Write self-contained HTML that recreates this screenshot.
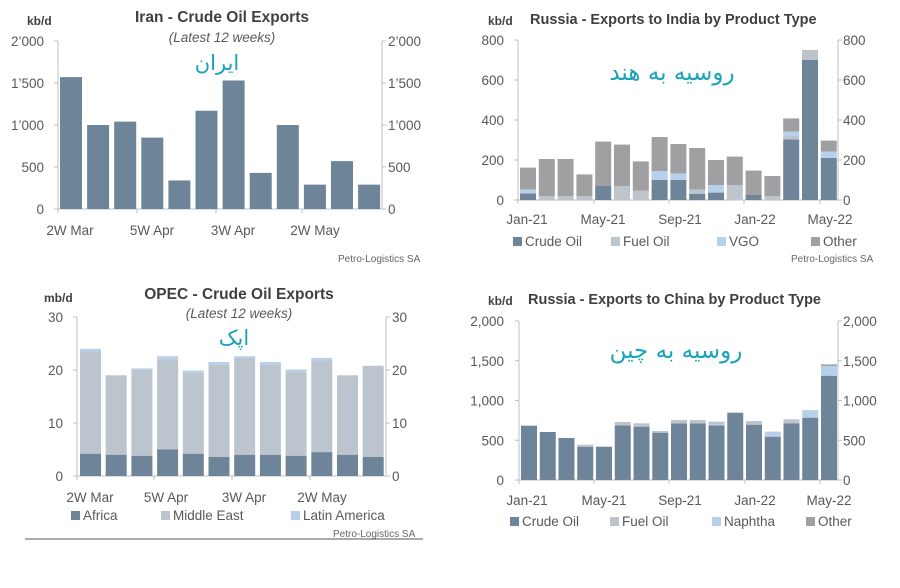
<!DOCTYPE html>
<html><head><meta charset="utf-8">
<style>
body{margin:0;background:#fff;}
svg{display:block;font-family:"Liberation Sans","Noto Sans CJK SC",sans-serif;}
.t{fill:#595959;font-size:13.5px;}
.ti{fill:#404040;font-size:15.5px;font-weight:bold;}
.fa{fill:#1aa3b8;font-family:"DejaVu Sans",sans-serif;}
.src{fill:#666;font-size:10px;}
</style></head><body>
<svg id="s" width="900" height="588" viewBox="0 0 900 588" xmlns="http://www.w3.org/2000/svg"></svg>
<script>
const S=document.getElementById('s');let h='';
function R(x,y,w,hh,c){h+=`<rect x="${x}" y="${y}" width="${w}" height="${hh}" fill="${c}"/>`;}
function T(x,y,s,cls,anc,extra){h+=`<text x="${x}" y="${y}" class="${cls}" text-anchor="${anc||'start'}" ${extra||''}>${s}</text>`;}
function L(x1,y1,x2,y2,c){h+=`<line x1="${x1}" y1="${y1}" x2="${x2}" y2="${y2}" stroke="${c||'#bfbfbf'}" stroke-width="1"/>`;}
const CR='#6e8499',FU='#bdc4cc',VG='#b7d0ec',OT='#a0a0a2',ME='#bcc5ce';
function axes(xl,xr,y0,yt,ticks,labs,lx,rx,bt){
 L(xl,y0,xr,y0);L(xl,yt,xl,y0);L(xr,yt,xr,y0);
 ticks.forEach((v,i)=>{const y=y0-(y0-yt)*i/(ticks.length-1);L(xl-4,y,xl,y);L(xr,y,xr+4,y);
  T(lx,y+5,v,'t','end');T(rx,y+5,v,'t','start');});
 bt.forEach(x=>L(x,y0,x,y0+4));
}
// Chart 1 Iran
axes(58,382,209,41,['0','500','1\u2019000','1\u2019500','2\u2019000'],0,44,388,[58,137,216,302]);
[1570,1000,1040,850,340,1170,1530,430,1000,290,570,290].forEach((v,i)=>{const hh=v*0.084;R(60+i*27.1,209-hh,22,hh,CR);});
[['2W Mar',70],['5W Apr',152],['3W Apr',233],['2W May',315]].forEach(a=>T(a[1],235,a[0],'t','middle'));
T(222,22,'Iran - Crude Oil Exports','ti','middle');
T(222,42,'(Latest 12 weeks)','t','middle','font-style="italic"');
T(27,25,'kb/d','t','start','font-weight="bold" style="font-size:12px;fill:#404040"');
T(217,70,'ایران','fa','middle','font-size="21"');
T(338,262,'Petro-Logistics SA','src');
// Chart 2 India
axes(518,838,200,40,['0','200','400','600','800'],0,504,843,[518,594,669,744,820]);
const ind=[[33,0,20,162],[0,20,0,205],[0,20,0,205],[0,20,0,128],[70,0,0,292],[0,70,0,277],[0,47,0,193],[100,0,45,315],[100,0,33,280],[30,23,0,260],[37,0,38,200],[0,75,0,217],[25,0,0,147],[0,20,0,120],[303,17,22,408],[700,50,0,750],[210,0,32,297]];
ind.forEach((d,i)=>{const x=520+i*18.8;let y=200;const s=0.2;
 [[d[0],CR],[d[1],FU],[d[2],VG]].forEach(p=>{if(p[0]){R(x,y-p[0]*s,16,p[0]*s,p[1]);y-=p[0]*s;}});
 const o=d[3]*s-(200-y);if(o>0)R(x,200-d[3]*s,16,o,OT);});
[['Jan-21',527],['May-21',603],['Sep-21',680],['Jan-22',755],['May-22',830]].forEach(a=>T(a[1],224,a[0],'t','middle'));
[[513,'Crude Oil',CR],[611,'Fuel Oil',FU],[717,'VGO',VG],[811,'Other',OT]].forEach(a=>{R(a[0],237,9,9,a[2]);T(a[0]+12,246,a[1],'t');});
T(530,24,'Russia - Exports to India by Product Type','ti','start','style="font-size:14.5px"');
T(488,25,'kb/d','t','start','font-weight="bold" style="font-size:12px;fill:#404040"');
T(672,80,'روسیه به هند','fa','middle','font-size="23"');
T(791,262,'Petro-Logistics SA','src');
// Chart 3 OPEC
axes(77,386,476,317,['0','10','20','30'],0,63,392,[77,154,232,310]);
const af=[4.2,4,3.8,5,4.2,3.6,4,4,3.8,4.5,4,3.6],mt=[23.5,19,20,22,19.5,21,22.3,21,19.6,21.8,19,20.8],la=[24,19,20.3,22.6,19.9,21.5,22.6,21.5,20.1,22.3,19,20.8];
af.forEach((v,i)=>{const x=80+i*25.7,s=5.3;R(x,476-la[i]*s,21,(la[i]-mt[i])*s,VG);R(x,476-mt[i]*s,21,(mt[i]-v)*s,ME);R(x,476-v*s,21,v*s,CR);});
[['2W Mar',90],['5W Apr',166],['3W Apr',244],['2W May',322]].forEach(a=>T(a[1],502,a[0],'t','middle'));
[[71,'Africa',CR],[161,'Middle East',ME],[291,'Latin America',VG]].forEach(a=>{R(a[0],511,9,9,a[2]);T(a[0]+12,520,a[1],'t');});
T(239,299,'OPEC - Crude Oil Exports','ti','middle');
T(239,318,'(Latest 12 weeks)','t','middle','font-style="italic"');
T(44,302,'mb/d','t','start','font-weight="bold" style="font-size:12px;fill:#404040"');
T(234,345,'اپک','fa','middle','font-size="21"');
T(333,537,'Petro-Logistics SA','src');
L(25,539,423,539,'#555');
// Chart 4 China
axes(519,838,480,321,['0','500','1,000','1,500','2,000'],0,504,843,[519,594,669,745,820]);
const ch=[[683,0,0,683],[604,0,0,604],[528,0,0,528],[419,25,0,444],[419,0,0,419],[688,42,0,730],[671,42,0,713],[595,21,0,616],[713,42,0,755],[713,42,0,755],[688,33,13,734],[847,0,0,847],[696,46,0,742],[545,12,51,620],[713,50,0,763],[784,10,84,880],[1312,21,114,1455]];
ch.forEach((d,i)=>{const x=521+i*18.75,s=159/2000;let y=480;
 [[d[0],CR],[d[2],VG],[d[1],FU]].forEach(p=>{if(p[0]){R(x,y-p[0]*s,16,p[0]*s,p[1]);y-=p[0]*s;}});
 if(i==16)R(x,480-d[3]*s,16,1.5,OT);});
[['Jan-21',527],['May-21',604],['Sep-21',680],['Jan-22',755],['May-22',829]].forEach(a=>T(a[1],505,a[0],'t','middle'));
[[510,'Crude Oil',CR],[610,'Fuel Oil',FU],[712,'Naphtha',VG],[806,'Other',OT]].forEach(a=>{R(a[0],517,9,9,a[2]);T(a[0]+12,526,a[1],'t');});
T(528,304,'Russia - Exports to China by Product Type','ti','start','style="font-size:14.5px"');
T(488,305,'kb/d','t','start','font-weight="bold" style="font-size:12px;fill:#404040"');
T(676,358,'روسیه به چین','fa','middle','font-size="23"');
S.innerHTML=h;
</script>
</body></html>
